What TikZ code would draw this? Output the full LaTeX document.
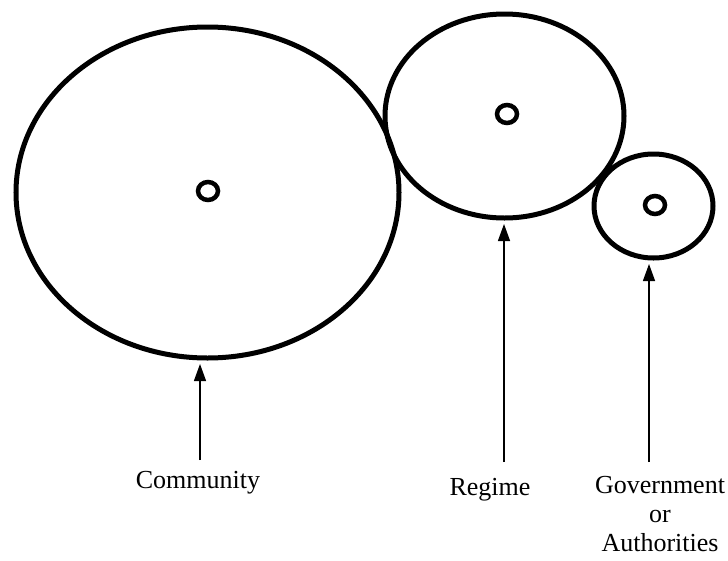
\documentclass[tikz,border=0pt]{standalone}
\usepackage{fontspec}
\setmainfont{Liberation Serif}
\usetikzlibrary{
    arrows.meta,
    shapes.geometric
}
\tikzset{
    every picture/.style = {
        > = {Triangle[length = 17pt, width = 12pt]},
        x = 1pt,
        y = 1pt
    },
    ring/.style = {
        ellipse,
        draw,
        line width = 5pt,
        inner sep = 0pt,
        outer sep = 0pt
    },
    hub/.style = {
        ellipse,
        draw,
        line width = 4.5pt,
        inner sep = 0pt,
        minimum width = 20pt,
        minimum height = 18pt
    },
    caption/.style = {
        anchor = north,
        inner sep = 0pt,
        align = center,
        font = \fontsize{26}{29}\selectfont
    },
    pointer/.style = {
        ->,
        line width = 1.3pt,
        shorten > = 6pt
    }
}

\begin{document}
\begin{tikzpicture}
    \useasboundingbox (0, 0) rectangle (728, -560);
    \node[ring, minimum width = 383pt, minimum height = 331pt] (community) at (207.5, -192.5) {};
    \node[ring, minimum width = 239pt, minimum height = 204pt] (regime) at (504.5, -116) {};
    \node[ring, minimum width = 119pt, minimum height = 104pt] (government) at (653.5, -206) {};
    \node[hub] (communityhub) at (208, -191) {};
    \node[hub] (regimehub) at (507, -114) {};
    \node[hub] (governmenthub) at (655, -205) {};
    \coordinate (communityfoot) at (200, -460);
    \coordinate (regimefoot) at (504, -462);
    \coordinate (governmentfoot) at (649, -462);
    \draw[pointer] (communityfoot) -- (communityfoot |- community.south);
    \draw[pointer] (regimefoot) -- (regimefoot |- regime.south);
    \draw[pointer] (governmentfoot) -- (governmentfoot |- government.south);
    \node[caption] (communitylabel) at (198, -471) {Community};
    \node[caption] (regimelabel) at (490, -478) {Regime};
    \node[caption] (governmentlabel) at (660, -476) {Government\\or\\Authorities};
\end{tikzpicture}
\end{document}
